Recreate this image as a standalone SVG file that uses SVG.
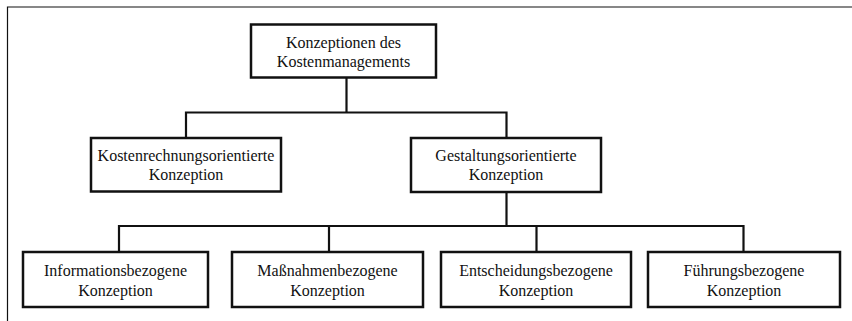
<svg xmlns="http://www.w3.org/2000/svg" width="852" height="321" viewBox="0 0 852 321">
<style>
.box{fill:#fff;stroke:#111;stroke-width:2.5}
.con{fill:none;stroke:#111;stroke-width:2.2}
.frame{fill:none;stroke:#111;stroke-width:1.2}
text{font-family:"Liberation Serif","Times New Roman",serif;font-size:16px;fill:#111;text-anchor:middle}
</style>
<rect width="852" height="321" fill="#fff"/>
<path class="frame" d="M7.5,321 V7 H852"/>
<g id="connectors">
<path class="con" d="M346.5,78 V112.5 M186,138 V112.5 H506.5 V138"/>
<path class="con" d="M506.5,192 V226 M119,252 V226 H743.5 V252 M329,226 V252 M536.5,226 V252"/>
</g>
<g id="n-root">
<rect class="box" x="251" y="24.5" width="185" height="53"/>
<text x="343.5" y="47.5">Konzeptionen des</text>
<text x="343.5" y="67">Kostenmanagements</text>
</g>
<g id="n-kosten">
<rect class="box" x="91" y="138" width="190" height="53.5"/>
<text x="186" y="160.5">Kostenrechnungsorientierte</text>
<text x="186" y="180">Konzeption</text>
</g>
<g id="n-gestaltung">
<rect class="box" x="411" y="138" width="190" height="54"/>
<text x="506" y="160.5">Gestaltungsorientierte</text>
<text x="506" y="180">Konzeption</text>
</g>
<g id="n-info">
<rect class="box" x="23" y="252" width="185" height="55"/>
<text x="115.5" y="276">Informationsbezogene</text>
<text x="115.5" y="295.5">Konzeption</text>
</g>
<g id="n-mass">
<rect class="box" x="232" y="252" width="191" height="55"/>
<text x="327.5" y="276">Maßnahmenbezogene</text>
<text x="327.5" y="295.5">Konzeption</text>
</g>
<g id="n-entscheidung">
<rect class="box" x="441" y="252" width="190" height="55"/>
<text x="536" y="276">Entscheidungsbezogene</text>
<text x="536" y="295.5">Konzeption</text>
</g>
<g id="n-fuehrung">
<rect class="box" x="648" y="252" width="192" height="55"/>
<text x="744" y="276">Führungsbezogene</text>
<text x="744" y="295.5">Konzeption</text>
</g>
</svg>
